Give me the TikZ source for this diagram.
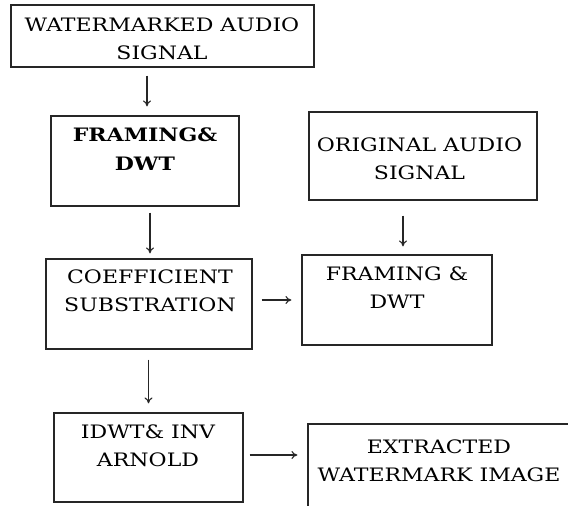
\documentclass[tikz,border=0pt]{standalone}
\usepackage{fontspec}
\setmainfont[FakeStretch=1.19]{DejaVu Serif}
\usetikzlibrary{arrows.meta}
\begin{document}
\begin{tikzpicture}[x=1pt,y=-1pt,
  blk/.style={draw=black!85,line width=1.2pt,rectangle,inner sep=0pt},
  lbl/.style={align=center,inner sep=0pt,anchor=base,font=\fontsize{18.5}{28}\selectfont},
  arr/.style={draw=black!85,line width=1.1pt,-{To[length=6pt,width=8pt]}}]
\useasboundingbox (0,0) rectangle (568,506);
\clip (0,0) rectangle (568,506);
% boxes
\node[blk,minimum width=303pt,minimum height=62pt] (b1) at (162.5,36) {};
\node[blk,minimum width=188pt,minimum height=90pt] (b2) at (145,161) {};
\node[blk,minimum width=206pt,minimum height=90pt] (b3) at (149,304) {};
\node[blk,minimum width=228pt,minimum height=88pt] (b4) at (423,156) {};
\node[blk,minimum width=190pt,minimum height=90pt] (b5) at (397,300) {};
\node[blk,minimum width=189pt,minimum height=89pt] (b6) at (148.5,457.5) {};
\node[blk,minimum width=266pt,minimum height=92pt] (b7) at (441,470) {};
% texts (anchor = baseline of last line)
\node[lbl] (t1) at (162,59) {WATERMARKED AUDIO\\SIGNAL};
\node[lbl,font=\fontsize{18.5}{29}\selectfont\bfseries] (t2) at (145,170.5) {FRAMING\&\\DWT};
\node[lbl] (t3) at (150,311) {COEFFICIENT\\SUBSTRATION};
\node[lbl] (t4) at (419.5,179.5) {ORIGINAL AUDIO\\SIGNAL};
\node[lbl] (t5) at (397,308.5) {FRAMING \&\\DWT};
\node[lbl] (t6) at (148,466.5) {IDWT\& INV\\ARNOLD};
\node[lbl] (t7) at (439,481) {EXTRACTED\\WATERMARK IMAGE};
% connectors
\draw[arr,shorten <=8pt,shorten >=9pt] ([xshift=2pt]b2.north |- b1.south) -- ([xshift=2pt]b2.north);
\draw[arr,shorten <=6pt,shorten >=5pt] ([xshift=1pt]b3.north |- b2.south) -- ([xshift=1pt]b3.north);
\draw[arr,shorten <=15pt,shorten >=8pt] ([xshift=6pt]b5.north |- b4.south) -- ([xshift=6pt]b5.north);
\draw[arr,shorten <=9pt,shorten >=10pt] (b3.east |- b5.east) -- (b5.east -| b5.west);
\draw[arr,shorten <=10pt,shorten >=9pt] (b6.north |- b3.south) -- (b6.north);
\draw[arr,shorten <=6pt,shorten >=10pt] ([yshift=2.5pt]b6.east) -- ([yshift=2.5pt]b6.east -| b7.west);
\end{tikzpicture}
\end{document}
